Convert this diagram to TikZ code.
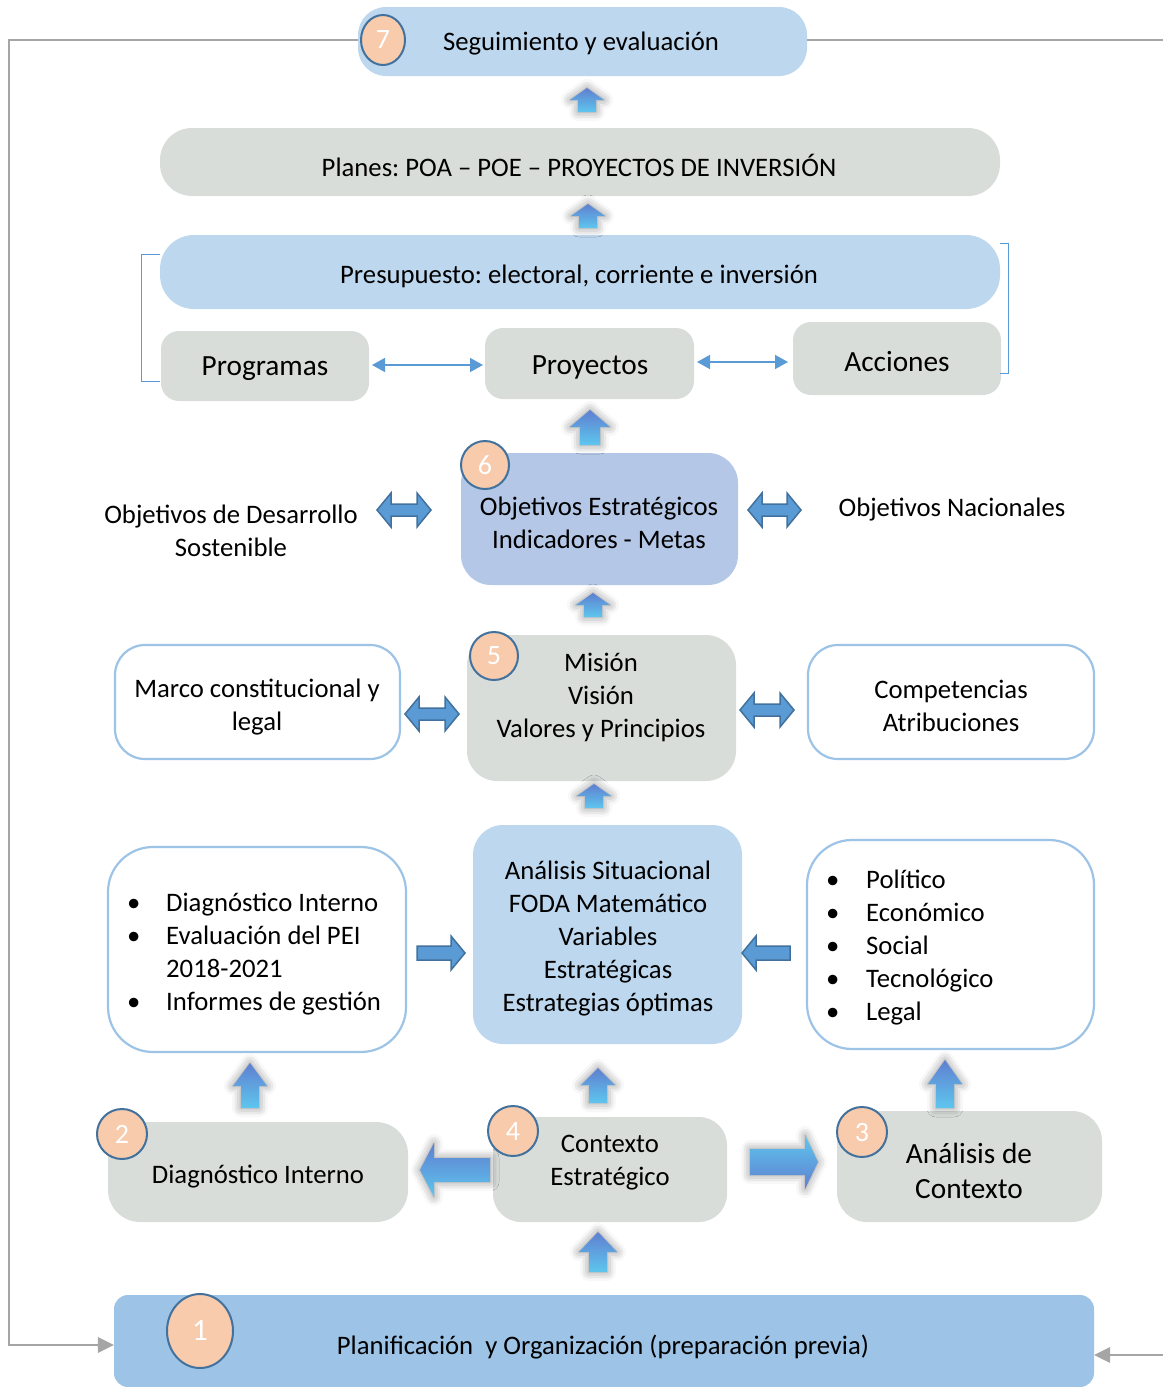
\documentclass[tikz,border=0pt]{standalone}
\usepackage{fontspec}
\setmainfont{Carlito}
\frenchspacing
\usetikzlibrary{arrows.meta,shapes.geometric,shadows.blur}

\definecolor{boxgray}{HTML}{D8DDDA}
\definecolor{lightblue}{HTML}{BDD7EE}
\definecolor{objblue}{HTML}{B4C7E7}
\definecolor{planblue}{HTML}{9DC3E6}
\definecolor{numfill}{HTML}{F8CBAD}
\definecolor{numline}{HTML}{41719C}
\definecolor{arrblue}{HTML}{5B9BD5}
\definecolor{fbgray}{HTML}{A5A5A5}
\definecolor{shadtop}{HTML}{5F7FD0}
\definecolor{shadbot}{HTML}{5EC6EE}

% vertical block arrow: x, tail y, neck y, tip y, head half width, body half width
\newcommand{\vArr}[6]{%
  \path[uparr] ({#1-#6},#2) -- ({#1-#6},#3) -- ({#1-#5},#3) -- (#1,#4)
    -- ({#1+#5},#3) -- ({#1+#6},#3) -- ({#1+#6},#2) -- cycle;}
% horizontal block arrow: tail x, neck x, tip x, y, head half height, body half height
\newcommand{\hArr}[7][fatarr]{%
  \path[#1] (#2,{#5-#7}) -- (#3,{#5-#7}) -- (#3,{#5-#6}) -- (#4,#5)
    -- (#3,{#5+#6}) -- (#3,{#5+#7}) -- (#2,{#5+#7}) -- cycle;}
% double block arrow: left x, right x, y
\newcommand{\dArr}[3]{%
  \path[fatarr] (#1,#3) -- ({#1+14},{#3-17}) -- ({#1+14},{#3-6}) -- ({#2-14},{#3-6})
    -- ({#2-14},{#3-17}) -- (#2,#3) -- ({#2-14},{#3+17}) -- ({#2-14},{#3+6})
    -- ({#1+14},{#3+6}) -- ({#1+14},{#3+17}) -- cycle;}

\tikzset{
  txt/.style={font=\fontsize{26.7}{33}\selectfont, align=center, inner sep=0pt, yshift=-3pt},
  bigtxt/.style={font=\fontsize{29.3}{35}\selectfont, align=center, inner sep=0pt, yshift=-2pt},
  graybox/.style={fill=boxgray, rounded corners=28, inner sep=0pt},
  bluebox/.style={fill=lightblue, rounded corners=28, inner sep=0pt},
  whitebox/.style={draw=planblue, line width=2.2pt, fill=white, rounded corners=36, inner sep=0pt},
  numcirc/.style={ellipse, fill=numfill, draw=numline, line width=2pt, text=white,
    font=\fontsize{28}{28}\selectfont, inner sep=0pt},
  uparr/.style={top color=shadtop, bottom color=shadbot,
    blur shadow={shadow xshift=0pt, shadow yshift=0pt, shadow blur radius=9pt, shadow opacity=45}},
  fatarr/.style={fill=arrblue, draw=numline, line width=1.5pt},
  thinarr/.style={draw=arrblue, line width=1.6pt, {Triangle[length=13,width=14]}-{Triangle[length=13,width=14]}},
  fbline/.style={draw=fbgray, line width=2.5pt},
  brk/.style={draw=arrblue, line width=1pt},
}

\begin{document}
\begin{tikzpicture}[x=1pt,y=-1pt]
  \useasboundingbox (0,0) rectangle (1163,1387);

  % top row
  \node[bluebox, minimum width=449, minimum height=69] (seg) at (582.5,41.5) {};
  \node[txt] (segt) at (581,41) {Seguimiento y evaluación};
  \node[numcirc, minimum width=44, minimum height=50] (n7) at (383,40) {7};

  \node[graybox, rounded corners=32, minimum width=840, minimum height=68] (plan) at (580,162) {};
  \node[txt] (plant) at (579,162) {Planes: POA – POE – PROYECTOS DE INVERSIÓN};

  \node[bluebox, rounded corners=34, minimum width=840, minimum height=74] (pres) at (580,272) {};
  \node[txt] (prest) at (579,273) {Presupuesto: electoral, corriente e inversión};

  \node[graybox, rounded corners=18, minimum width=208, minimum height=70] (prog) at (265,366) {};
  \node[bigtxt] at (265,367) {Programas};
  \node[graybox, rounded corners=18, minimum width=209, minimum height=71] (proy) at (589.5,363.5) {};
  \node[bigtxt] at (590,365) {Proyectos};
  \node[graybox, rounded corners=18, minimum width=208, minimum height=73] (acc) at (897,358.5) {};
  \node[bigtxt] at (897,360) {Acciones};

  % brackets
  \draw[brk] (160,254) -- (141,254) -- (141,381) -- (160,381);
  \draw[brk] (1000,243) -- (1008,243) -- (1008,373) -- (1000,373);

  \draw[thinarr] (372,365) -- (483,365);
  \draw[thinarr] (697,362) -- (788,362);

  % objetivos
  \node[fill=objblue, rounded corners=30, minimum width=277, minimum height=132] (obj) at (599.5,519) {};
  \node[txt] (objt) at (599,520) {Objetivos Estratégicos\\Indicadores - Metas};
  \node[numcirc, minimum width=48, minimum height=48] (n6) at (485,465) {6};
  \node[txt] (ods) at (231,528) {Objetivos de Desarrollo\\Sostenible};
  \node[txt] (onac) at (952,507) {Objetivos Nacionales};
  \dArr{377}{431}{510}
  \dArr{748}{801}{510}

  % mision
  \node[graybox, rounded corners=30, minimum width=269, minimum height=146] (mis) at (601.5,708) {};
  \node[txt] (mist) at (601,694) {Misión\\Visión\\Valores y Principios};
  \node[numcirc, minimum width=48, minimum height=48] (n5) at (494,656) {5};
  \node[whitebox, rounded corners=30, minimum width=285, minimum height=114] (marco) at (257.5,702) {};
  \node[txt] at (257,704) {Marco constitucional y\\legal};
  \node[whitebox, rounded corners=30, minimum width=286, minimum height=114] (comp) at (951,702) {};
  \node[txt] at (951,703) {Competencias\\Atribuciones};
  \dArr{405}{459}{714}
  \dArr{740}{794}{710}

  % analisis
  \node[bluebox, rounded corners=30, minimum width=269, minimum height=219] (anal) at (607.5,934.5) {};
  \node[txt] (analt) at (608,936) {Análisis Situacional\\FODA Matemático\\Variables\\Estratégicas\\Estrategias óptimas};
  \node[whitebox, rounded corners=45, minimum width=298, minimum height=205] (diagl) at (257,949.5) {};
  \node[txt, align=left, anchor=west] at (127,951) {%
    \makebox[39pt][l]{•}Diagnóstico Interno\\
    \makebox[39pt][l]{•}Evaluación del PEI\\
    \makebox[39pt][l]{}2018-2021\\
    \makebox[39pt][l]{•}Informes de gestión};
  \node[whitebox, rounded corners=45, minimum width=287, minimum height=209] (ctxl) at (950.5,944.5) {};
  \node[txt, align=left, anchor=west] at (826,945) {%
    \makebox[40pt][l]{•}Político\\
    \makebox[40pt][l]{•}Económico\\
    \makebox[40pt][l]{•}Social\\
    \makebox[40pt][l]{•}Tecnológico\\
    \makebox[40pt][l]{•}Legal};
  \hArr{417}{451}{465}{953}{17}{7}
  \hArr{790}{756}{742}{953}{17}{7}

  % bottom row
  \node[graybox, rounded corners=32, minimum width=300, minimum height=100] (diag) at (258,1172) {};
  \node[txt] at (258,1174) {Diagnóstico Interno};
  \node[numcirc, minimum width=50, minimum height=50] (n2) at (122,1134) {2};
  \node[graybox, rounded corners=28, minimum width=234, minimum height=105] (cest) at (610,1169.5) {};
  \node[txt] at (610,1160) {Contexto\\Estratégico};
  \node[numcirc, minimum width=50, minimum height=50] (n4) at (513,1131) {4};
  \node[graybox, rounded corners=30, minimum width=265, minimum height=111] (actx) at (969.5,1166.5) {};
  \node[bigtxt] at (969,1169) {Análisis de\\Contexto};
  \node[numcirc, minimum width=50, minimum height=50] (n3) at (862,1132) {3};
  \hArr[uparr]{490}{434}{420}{1170}{27}{12}
  \hArr[uparr, top color=shadbot, bottom color=shadtop]{750}{805}{818}{1162}{27}{13}

  \node[fill=planblue, rounded corners=14, minimum width=980, minimum height=92] (plani) at (604,1341) {};
  \node[txt] at (603,1344) {Planificación\ \ y Organización (preparación previa)};
  \node[numcirc, minimum width=66, minimum height=74, font=\fontsize{31}{31}\selectfont] (n1) at (200,1331) {1};

  % up arrows
  \vArr{587}{112}{100}{88}{17}{9}
  \vArr{588}{228}{216}{204}{17}{9}
  \vArr{590}{445}{427}{410}{20}{10}
  \vArr{593}{617}{605}{593}{17}{9}
  \vArr{594}{808}{796}{784}{17}{9}
  \vArr{250}{1108}{1086}{1063}{17}{9}
  \vArr{598}{1103}{1085}{1068}{17}{9}
  \vArr{945}{1108}{1084}{1060}{17}{9}
  \vArr{598}{1272}{1252}{1232}{19}{9}

  % feedback line
  \draw[fbline] (seg.west |- 0,40) -- (9,40) -- (9,1345)
    -- ([xshift=-14]plani.west |- 0,1345);
  \fill[fbgray] (plani.west |- 0,1345) -- ++(-16,-8) -- ++(0,16) -- cycle;
  \draw[fbline] (seg.east |- 0,40) -- (1163,40);
  \draw[fbline] (1163,1355) -- ([xshift=14]plani.east |- 0,1355);
  \fill[fbgray] (plani.east |- 0,1355) -- ++(16,-8) -- ++(0,16) -- cycle;
\end{tikzpicture}
\end{document}
